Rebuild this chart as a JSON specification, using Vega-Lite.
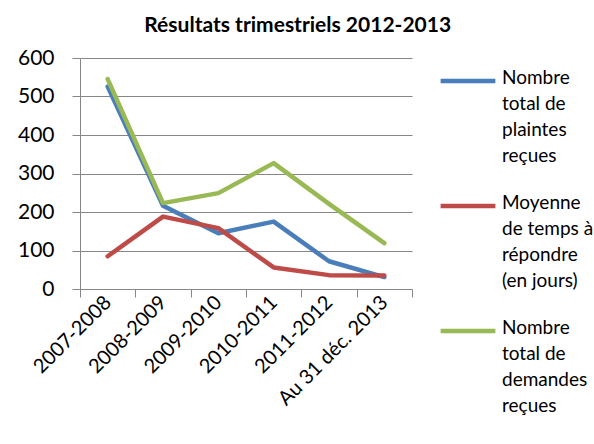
{
  "$schema": "https://vega.github.io/schema/vega-lite/v6.json",
  "width": 332,
  "height": 231,
  "padding": {"left": 17, "top": 15, "right": 5, "bottom": 5},
  "title": {"text": "Résultats trimestriels 2012-2013", "font": "Lato", "fontSize": 21, "fontWeight": "bold", "color": "#000000", "anchor": "middle", "frame": "bounds", "offset": 11, "dx": -8},
  "data": {"values": [
    {"periode": "2007-2008", "serie": "Nombre total de plaintes reçues", "valeur": 526},
    {"periode": "2008-2009", "serie": "Nombre total de plaintes reçues", "valeur": 216},
    {"periode": "2009-2010", "serie": "Nombre total de plaintes reçues", "valeur": 145},
    {"periode": "2010-2011", "serie": "Nombre total de plaintes reçues", "valeur": 175},
    {"periode": "2011-2012", "serie": "Nombre total de plaintes reçues", "valeur": 72},
    {"periode": "Au 31 déc. 2013", "serie": "Nombre total de plaintes reçues", "valeur": 31},
    {"periode": "2007-2008", "serie": "Moyenne de temps à répondre (en jours)", "valeur": 85},
    {"periode": "2008-2009", "serie": "Moyenne de temps à répondre (en jours)", "valeur": 188},
    {"periode": "2009-2010", "serie": "Moyenne de temps à répondre (en jours)", "valeur": 158},
    {"periode": "2010-2011", "serie": "Moyenne de temps à répondre (en jours)", "valeur": 56},
    {"periode": "2011-2012", "serie": "Moyenne de temps à répondre (en jours)", "valeur": 36},
    {"periode": "Au 31 déc. 2013", "serie": "Moyenne de temps à répondre (en jours)", "valeur": 35},
    {"periode": "2007-2008", "serie": "Nombre total de demandes reçues", "valeur": 545},
    {"periode": "2008-2009", "serie": "Nombre total de demandes reçues", "valeur": 223},
    {"periode": "2009-2010", "serie": "Nombre total de demandes reçues", "valeur": 249},
    {"periode": "2010-2011", "serie": "Nombre total de demandes reçues", "valeur": 327},
    {"periode": "2011-2012", "serie": "Nombre total de demandes reçues", "valeur": 221},
    {"periode": "Au 31 déc. 2013", "serie": "Nombre total de demandes reçues", "valeur": 119}
  ]},
  "mark": {"type": "line", "strokeWidth": 4.5, "strokeCap": "round", "strokeJoin": "round"},
  "encoding": {
    "x": {
      "field": "periode", "type": "nominal",
      "sort": ["2007-2008", "2008-2009", "2009-2010", "2010-2011", "2011-2012", "Au 31 déc. 2013"],
      "scale": {"type": "band", "paddingInner": 0, "paddingOuter": 0},
      "axis": {"title": null, "labelAngle": -45, "labelAlign": "right", "labelBaseline": "middle", "labelFont": "Lato", "labelFontSize": 20, "labelColor": "#000000", "tickBand": "extent", "tickSize": 8, "tickColor": "#868686", "domainColor": "#868686", "grid": false, "labelPadding": 2}
    },
    "y": {
      "field": "valeur", "type": "quantitative",
      "scale": {"domain": [0, 600], "nice": false},
      "axis": {"title": null, "values": [0, 100, 200, 300, 400, 500, 600], "labelFont": "Lato", "labelFontSize": 21, "labelColor": "#000000", "labelPadding": 18, "tickSize": 8, "tickColor": "#868686", "domainColor": "#868686", "gridColor": "#868686", "gridWidth": 1, "gridOpacity": 1}
    },
    "color": {
      "field": "serie", "type": "nominal",
      "scale": {"domain": ["Nombre total de plaintes reçues", "Moyenne de temps à répondre (en jours)", "Nombre total de demandes reçues"], "range": ["#4A7EBB", "#BE4B48", "#98B954"]},
      "legend": {
        "title": null, "orient": "none", "legendX": 358, "legendY": -7,
        "symbolType": "stroke", "symbolSize": 3000, "symbolStrokeWidth": 4.5,
        "labelFont": "Lato", "labelFontSize": 19, "labelColor": "#000000", "labelOffset": 4, "labelLimit": 200,
        "labelBaseline": "top", "rowPadding": 10,
        "labelExpr": "datum.label == 'Nombre total de plaintes reçues' ? ['Nombre', 'total de', 'plaintes', 'reçues'] : datum.label == 'Nombre total de demandes reçues' ? ['Nombre', 'total de', 'demandes', 'reçues'] : ['Moyenne', 'de temps à', 'répondre', '(en jours)']",
        "encode": {"labels": {"update": {"lineHeight": {"value": 26}, "dy": {"value": -12}}}}
      }
    }
  },
  "config": {"view": {"stroke": null}, "background": "#ffffff"}
}
